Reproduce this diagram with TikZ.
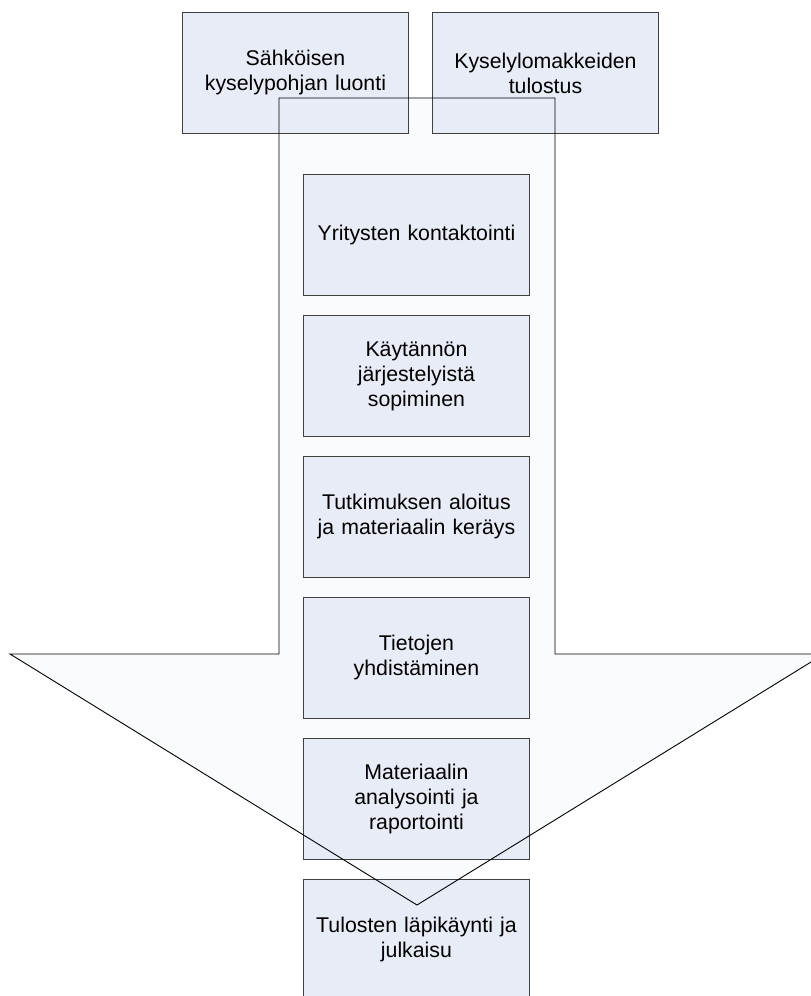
\documentclass[tikz,border=0pt]{standalone}
\usepackage{fontspec}
\setmainfont{Liberation Sans}
\definecolor{boxfill}{RGB}{232,236,246}
\definecolor{boxline}{RGB}{64,64,64}
\definecolor{arrowfill}{RGB}{250,251,252}
\begin{document}
\begin{tikzpicture}[x=1pt,y=-1pt,
  stepbox/.style={draw=boxline,line width=0.9pt,fill=boxfill,
    minimum width=226pt,minimum height=121pt,inner sep=0pt,
    align=center,text width=220pt,
    font=\fontsize{21.3}{25}\selectfont,anchor=north west},
  bigarrow/.style={draw=black,line width=0.9pt,line join=miter}]
\useasboundingbox (0,0) rectangle (811,996);
\begin{scope}
\clip (0,0) rectangle (811,996);
% the big downward arrow: faint fill underneath everything
\path[fill=arrowfill] (279,98) -- (555,98) -- (555,654) -- (824,654)
  -- (417,905) -- (10,654) -- (279,654) -- cycle;
% top row: preparation tasks
\node[stepbox] (pohja) at (182,12) {Sähköisen\\kyselypohjan luonti};
\node[stepbox] (tulostus) at (432,12) {Kyselylomakkeiden\\tulostus};
% process steps inside the arrow
\node[stepbox] (s1) at (303,174) {Yritysten kontaktointi};
\node[stepbox] (s2) at (303,315) {Käytännön\\järjestelyistä\\sopiminen};
\node[stepbox] (s3) at (303,456) {Tutkimuksen aloitus\\ja materiaalin keräys};
\node[stepbox] (s4) at (303,597) {Tietojen\\yhdistäminen};
\node[stepbox] (s5) at (303,738) {Materiaalin\\analysointi ja\\raportointi};
\node[stepbox] (s6) at (303,879) {Tulosten läpikäynti ja\\julkaisu};
% arrow outline on top
\draw[bigarrow] (279,98) -- (555,98) -- (555,654) -- (824,654)
  -- (417,905) -- (10,654) -- (279,654) -- cycle;
\end{scope}
\end{tikzpicture}
\end{document}
